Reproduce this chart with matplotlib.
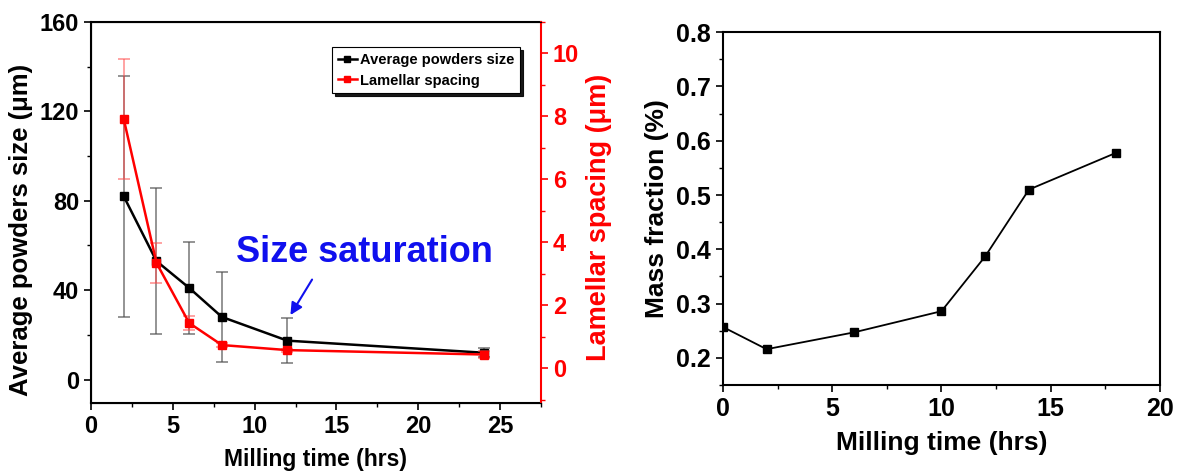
import matplotlib.pyplot as plt
from matplotlib.lines import Line2D
from matplotlib.ticker import MultipleLocator

plt.rcParams['font.family'] = ['Liberation Sans', 'DejaVu Sans']
plt.rcParams['font.weight'] = 'bold'

# left panel data
time_a = [2, 4, 6, 8, 12, 24]
powder_size = [82, 53, 41, 28, 17.4, 12]
powder_err = [54, 32.5, 20.5, 20, 10.2, 2]
lamellar = [7.92, 3.35, 1.44, 0.74, 0.58, 0.44]
lamellar_err = [1.9, 0.63, 0.22, 0.05, 0.05, 0.1]

# right panel data
time_b = [0, 2, 6, 10, 12, 14, 18]
mass_frac = [0.257, 0.216, 0.247, 0.286, 0.387, 0.510, 0.578]

fig = plt.figure(figsize=(11.85, 4.73), dpi=100)

ax1 = fig.add_axes([0.0768, 0.148, 0.3797, 0.8055])
ax2 = ax1.twinx()

ax1.errorbar(time_a, powder_size, yerr=powder_err, color='black', marker='s',
             markersize=6, linewidth=1.8, ecolor=(0.3, 0.3, 0.3, 0.7),
             elinewidth=1.2, capsize=4, capthick=1.2, zorder=3)
ax2.errorbar(time_a, lamellar, yerr=lamellar_err, color='red', marker='s',
             markersize=6, linewidth=1.8, ecolor=(1, 0.3, 0.3, 0.6),
             elinewidth=1.2, capsize=4, capthick=1.2, zorder=3)

ax1.set_xlim(0, 27.5)
ax1.set_ylim(-10.5, 160)
ax2.set_ylim(-1.1, 11)

ax1.xaxis.set_major_locator(MultipleLocator(5))
ax1.xaxis.set_minor_locator(MultipleLocator(2.5))
ax1.yaxis.set_major_locator(MultipleLocator(40))
ax1.yaxis.set_minor_locator(MultipleLocator(20))
ax2.yaxis.set_major_locator(MultipleLocator(2))
ax2.yaxis.set_minor_locator(MultipleLocator(1))

for a in (ax1, ax2):
    a.tick_params(which='major', direction='out', length=5, width=1.2, labelsize=17)
    a.tick_params(which='minor', direction='out', length=3, width=1.0)
ax1.tick_params(axis='x', which='both', top=False)

ax2.spines['right'].set_color('red')
ax2.spines['right'].set_linewidth(1.5)
ax2.tick_params(axis='y', which='both', colors='red')
ax1.spines['right'].set_visible(False)
for s in ('left', 'bottom', 'top'):
    ax1.spines[s].set_linewidth(1.5)

ax1.set_xlabel('Milling time (hrs)', fontsize=16.5, fontweight='bold', labelpad=7)
ax1.set_ylabel('Average powders size (\u03bcm)', fontsize=18.5, fontweight='bold', labelpad=2)
ax1.yaxis.set_label_coords(-0.128, 0.455)
ax2.set_ylabel('Lamellar spacing (\u03bcm)', fontsize=19.5, fontweight='bold', color='red', labelpad=2)
ax2.yaxis.set_label_coords(1.10, 0.486)

ax1.text(16.7, 57, 'Size saturation', color='#1010ee', fontsize=26, fontweight='bold',
         ha='center', va='center', zorder=5)
ax1.annotate('', xy=(12.1, 27.8), xytext=(13.6, 45.8),
             arrowprops=dict(arrowstyle='-|>', color='#1010ee', lw=1.5, mutation_scale=18))

handles = [Line2D([], [], color='black', marker='s', markersize=4, linewidth=1.8),
           Line2D([], [], color='red', marker='s', markersize=4, linewidth=1.8)]
labels = ['Average powders size', 'Lamellar spacing']
leg = ax2.legend(handles, labels, loc='upper right', bbox_to_anchor=(0.953, 0.934),
                 borderaxespad=0, frameon=True, fancybox=False,
                 shadow={'color': 'black', 'alpha': 0.9},
                 handlelength=1.3, handletextpad=0.2, borderpad=0.4, labelspacing=0.45,
                 prop={'weight': 'bold', 'size': 10.5})
leg.get_frame().set_edgecolor('black')
leg.get_frame().set_linewidth(0.8)

# right panel
ax3 = fig.add_axes([0.610, 0.186, 0.369, 0.746])
ax3.plot(time_b, mass_frac, color='black', marker='s', markersize=6, linewidth=1.3)
ax3.set_xlim(0, 20)
ax3.set_ylim(0.15, 0.8)
ax3.xaxis.set_major_locator(MultipleLocator(5))
ax3.xaxis.set_minor_locator(MultipleLocator(2.5))
ax3.yaxis.set_major_locator(MultipleLocator(0.1))
ax3.yaxis.set_minor_locator(MultipleLocator(0.05))
ax3.tick_params(which='major', direction='out', length=5, width=1.2, labelsize=18)
ax3.tick_params(which='minor', direction='out', length=3, width=1.0)
for s in ax3.spines.values():
    s.set_linewidth(1.5)
ax3.set_xlabel('Milling time (hrs)', fontsize=19, fontweight='bold', labelpad=7)
ax3.set_ylabel('Mass fraction (%)', fontsize=19, fontweight='bold', labelpad=5)

fig.savefig('out.png', dpi=100)
